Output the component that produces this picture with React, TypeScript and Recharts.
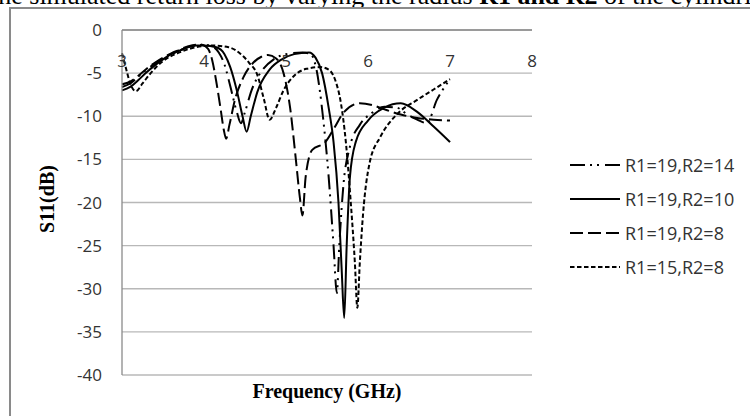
import React from 'react';
import { LineChart, Line, XAxis, YAxis, CartesianGrid, Legend } from 'recharts';

const xTicks = [3, 4, 5, 6, 7, 8];
const yTicks = [-40, -35, -30, -25, -20, -15, -10, -5, 0];
const seriesNames = ['R1=19,R2=14', 'R1=19,R2=10', 'R1=19,R2=8', 'R1=15,R2=8'];

// R1=19,R2=14
const freqA = [3.0, 3.1, 3.2, 3.3, 3.4, 3.5, 3.6, 3.7, 3.8, 3.9, 4.0, 4.1, 4.18, 4.25, 4.32, 4.4, 4.45, 4.5, 4.58, 4.7, 4.85, 5.0, 5.2, 5.3, 5.37, 5.45, 5.52, 5.58, 5.62, 5.65, 5.7, 5.78, 5.9, 6.05, 6.2, 6.35, 6.48, 6.6, 6.72, 6.84, 6.92, 7.0];
const s11A = [-6.6, -6.2, -5.4, -4.6, -3.9, -3.3, -2.8, -2.4, -2.0, -1.8, -1.7, -1.9, -2.6, -4.0, -6.5, -9.5, -10.8, -9.5, -7.0, -4.8, -3.4, -2.8, -2.6, -2.8, -4.5, -10, -17, -25, -30.5, -25, -18, -13.5, -11, -9.6, -8.9, -9.0, -9.8, -10.4, -10.8, -8.1, -6.8, -5.7];

// R1=19,R2=10
const freqB = [3.0, 3.1, 3.2, 3.3, 3.4, 3.5, 3.6, 3.7, 3.8, 3.9, 4.0, 4.15, 4.25, 4.32, 4.4, 4.47, 4.52, 4.57, 4.65, 4.8, 4.95, 5.1, 5.28, 5.36, 5.44, 5.52, 5.58, 5.64, 5.68, 5.71, 5.74, 5.78, 5.85, 6.0, 6.2, 6.4, 6.6, 6.8, 7.0];
const s11B = [-7.0, -6.6, -5.8, -4.9, -4.1, -3.4, -2.8, -2.4, -2.0, -1.8, -1.8, -2.0, -2.8, -4.3, -7.0, -10, -11.8, -10, -7.2, -4.6, -3.4, -2.8, -2.6, -3.2, -5, -9, -13, -20, -28, -33.4, -25, -17, -13, -10.5, -9.0, -8.5, -9.5, -11.2, -13];

// R1=19,R2=8
const freqC = [3.0, 3.1, 3.2, 3.3, 3.4, 3.5, 3.6, 3.7, 3.8, 3.9, 3.97, 4.05, 4.1, 4.15, 4.2, 4.24, 4.27, 4.31, 4.38, 4.48, 4.6, 4.7, 4.78, 4.88, 4.97, 5.05, 5.12, 5.17, 5.2, 5.24, 5.32, 5.48, 5.58, 5.7, 5.9, 6.05, 6.2, 6.4, 6.6, 6.8, 7.0];
const s11C = [-6.3, -6.0, -5.3, -4.5, -3.8, -3.2, -2.7, -2.3, -1.9, -1.7, -1.7, -2.2, -3.5, -6, -9, -11.5, -12.6, -11, -8, -5.5, -3.8, -3.1, -2.9, -3.3, -5, -9, -15, -19.5, -21.5, -17, -13.9, -13.0, -11.5, -9.6, -8.5, -8.7, -9.2, -9.8, -10.2, -10.4, -10.5];

// R1=15,R2=8
const freqD = [3.0, 3.05, 3.1, 3.17, 3.25, 3.35, 3.5, 3.7, 3.9, 4.1, 4.3, 4.45, 4.55, 4.65, 4.73, 4.8, 4.88, 4.97, 5.1, 5.25, 5.42, 5.52, 5.6, 5.67, 5.73, 5.79, 5.84, 5.87, 5.9, 5.94, 6.02, 6.15, 6.35, 6.6, 6.8, 7.0];
const s11D = [-2.7, -4.5, -6.2, -7.1, -6.2, -5.0, -3.6, -2.6, -2.0, -1.8, -2.0, -2.8, -3.8, -5.2, -8.0, -10.4, -9.0, -7.0, -5.3, -4.5, -4.3, -4.6, -5.8, -8.5, -13, -20, -27, -32.2, -27, -21.3, -15.4, -12.4, -9.8, -8.1, -6.9, -5.7];

const dashPatterns = ['15 5 2 5 2 6', '', '13 5', '4.5 2.5'];

const toPoints = (f: number[], v: number[]) => f.map((x, i) => ({ f: x, s11: v[i] }));
const seriesData = [toPoints(freqA, s11A), toPoints(freqB, s11B), toPoints(freqC, s11C), toPoints(freqD, s11D)];

const tickFont = "'Open Sans', sans-serif";

const renderXTick = (props: any) => {
  const { x, y, payload } = props;
  return (
    <text x={x} y={y + 37} textAnchor="middle" fontFamily={tickFont} fontSize={17} fill="#333">
      {payload.value}
    </text>
  );
};

const LegendContent = () => (
  <div style={{ fontFamily: tickFont, fontSize: 18, color: '#333' }}>
    {seriesNames.map((n, i) => (
      <div key={n} style={{ display: 'flex', alignItems: 'center', height: 34 }}>
        <svg width={52} height={10}>
          <line x1={1} y1={5} x2={51} y2={5} stroke="#000" strokeWidth={2} strokeDasharray={dashPatterns[i] || undefined} />
        </svg>
        <span style={{ marginLeft: 4, whiteSpace: 'nowrap' }}>{n}</span>
      </div>
    ))}
  </div>
);

export default function App() {
  return (
    <div style={{ position: 'absolute', left: 0, top: 0, width: 750, height: 416, overflow: 'hidden', background: '#fff' }}>
      <div
        style={{
          position: 'absolute', left: -9, top: -17, whiteSpace: 'nowrap',
          fontFamily: "'Liberation Serif', serif", fontSize: 26, lineHeight: '26px', color: '#000',
        }}
      >
        the simulated return loss by varying the radius <b>R1 and R2</b> of the cylindrical
      </div>
      <div style={{ position: 'absolute', left: 9, top: 7, width: 800, height: 500, borderLeft: '2px solid #8a8a8a', borderTop: '2px solid #8a8a8a' }} />
      <div style={{ position: 'absolute', left: 0, top: 0 }}>
        <LineChart width={750} height={416} data={seriesData[0]} margin={{ top: 29, right: 218, bottom: 41, left: 0 }}>
          <CartesianGrid vertical={false} stroke="#b8b8b8" strokeWidth={1.3} />
          <XAxis
            dataKey="f"
            type="number"
            domain={[3, 8]}
            ticks={xTicks}
            interval={0}
            orientation="top"
            height={1}
            tickLine={false}
            tickSize={0}
            tickMargin={0}
            axisLine={{ stroke: '#8a8a8a', strokeWidth: 1.3 }}
            tick={renderXTick}
            allowDuplicatedCategory={false}
          />
          <YAxis
            type="number"
            domain={[-40, 0]}
            ticks={yTicks}
            width={122}
            tickLine={false}
            tickSize={0}
            tickMargin={20}
            axisLine={{ stroke: '#8a8a8a', strokeWidth: 1.3 }}
            tick={{ fontFamily: tickFont, fontSize: 17, fill: '#333' }}
          />
          <Legend layout="vertical" align="center" verticalAlign="middle" content={<LegendContent />} wrapperStyle={{ left: 569, top: 148, width: 181 }} />
          {seriesNames.map((n, i) => (
            <Line
              key={n}
              name={n}
              data={seriesData[i]}
              dataKey="s11"
              type="monotone"
              stroke="#000"
              strokeWidth={2}
              strokeDasharray={dashPatterns[i] || undefined}
              dot={false}
              activeDot={false}
              isAnimationActive={false}
            />
          ))}
        </LineChart>
      </div>
      <div
        style={{
          position: 'absolute', left: 47, top: 199, transform: 'translate(-50%, -50%) rotate(-90deg)',
          fontFamily: "'Liberation Serif', serif", fontWeight: 'bold', fontSize: 20, whiteSpace: 'nowrap', color: '#000',
        }}
      >
        S11(dB)
      </div>
      <div
        style={{
          position: 'absolute', left: 327, top: 391, transform: 'translate(-50%, -50%)',
          fontFamily: "'Liberation Serif', serif", fontWeight: 'bold', fontSize: 20, whiteSpace: 'nowrap', color: '#000',
        }}
      >
        Frequency (GHz)
      </div>
    </div>
  );
}
